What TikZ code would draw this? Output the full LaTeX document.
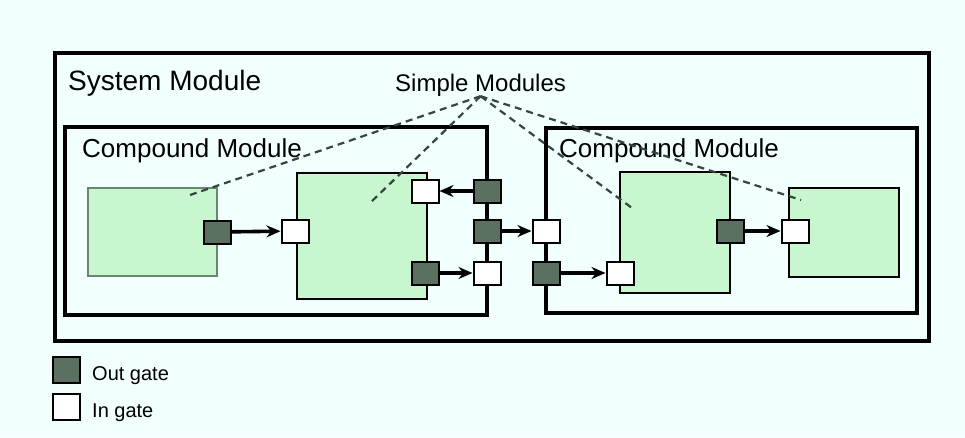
\documentclass[tikz,border=0pt]{standalone}
\usepackage{fontspec}
\setmainfont{Liberation Sans}
\usepackage{xcolor}
\usepackage{tikz}
\usetikzlibrary{arrows.meta}
\definecolor{canvas}{RGB}{242,255,255}
\definecolor{modfill}{RGB}{200,246,206}
\definecolor{gatedark}{RGB}{92,112,98}
\definecolor{dashgreen}{RGB}{50,72,60}
\definecolor{faintedge}{RGB}{105,135,110}

\begin{document}
\begin{tikzpicture}[x=1pt, y=-1pt, frame/.style={draw=black, line width=4pt, inner sep=0pt}, compound/.style={draw=black, line width=3.5pt, inner sep=0pt}, simple/.style={draw=black, fill=modfill, line width=2.2pt, inner sep=0pt}, outgate/.style={draw=black, fill=gatedark, line width=2pt, minimum width=27pt, minimum height=23pt, inner sep=0pt}, ingate/.style={outgate, fill=white}, arrow/.style={-{Stealth[length=14pt,width=12pt]}, draw=black, line width=3.6pt}, pointer/.style={draw=dashgreen, line width=2.2pt, dash pattern=on 7pt off 5pt}, title/.style={anchor=base west, inner sep=0pt}]
\fill[canvas] (0,0) rectangle (965,437);
\useasboundingbox (0,0) rectangle (965,437);
\node[frame, minimum width=874pt, minimum height=288pt] (sys) at (492,197) {};
\node[title, font=\fontsize{28}{32}\selectfont] (systext) at (68,90) {System Module};
\node[title, font=\fontsize{24}{28}\selectfont] (smp) at (395,91) {Simple Modules};
\node[compound, minimum width=422pt, minimum height=188pt] (cl) at (276,221) {};
\node[title, font=\fontsize{26}{30}\selectfont] (cltext) at (82,157) {Compound Module};
\node[compound, minimum width=371pt, minimum height=185pt] (cr) at (731.5,220.5) {};
\node[title, font=\fontsize{26}{30}\selectfont] (crtext) at (559,157) {Compound Module};
% simple modules
\node[simple, draw=faintedge, line width=1.3pt, minimum width=129pt, minimum height=88pt] (sa) at (152.5,232) {};
\node[simple, minimum width=130pt, minimum height=126pt] (sb) at (362,236) {};
\node[simple, minimum width=110pt, minimum height=121pt] (sc) at (675,232.5) {};
\node[simple, line width=1.8pt, minimum width=110pt, minimum height=89pt] (sd) at (844,232.5) {};
% gates
\node[outgate] (aout) at (217,232) {};
\node[ingate] (bin1) at (295,231) {};
\node[ingate] (bin2) at (425,191) {};
\node[outgate] (bout) at (425,273) {};
\node[outgate] (lout1) at (487,191) {};
\node[outgate] (lout2) at (487,231) {};
\node[ingate] (lin) at (487,273) {};
\node[ingate] (rin) at (546,231) {};
\node[outgate] (rout) at (546,273) {};
\node[ingate] (cin) at (620,273) {};
\node[outgate] (cout) at (730,231) {};
\node[ingate] (din) at (795,231) {};
\draw[arrow] (aout) -- (bin1);
\draw[arrow] (lout1) -- (bin2);
\draw[arrow] (bout) -- (lin);
\draw[arrow] (lout2) -- (rin);
\draw[arrow] (rout) -- (cin);
\draw[arrow] (cout) -- (din);
% pointers to the simple modules
\coordinate (pa) at (190,195);
\coordinate (pb) at (370,203);
\coordinate (pc) at (632,208);
\coordinate (pd) at (801,200);
\draw[pointer] (smp.south) -- (pa);
\draw[pointer] (smp.south) -- (pb);
\draw[pointer] (smp.south) -- (pc);
\draw[pointer] (smp.south) -- (pd);
% legend
\node[outgate, minimum width=27pt, minimum height=26pt] (legout) at (66,370) {};
\node[title, font=\fontsize{20}{24}\selectfont] (legouttext) at (92,380) {Out gate};
\node[ingate, minimum width=27pt, minimum height=26pt] (legin) at (66,407) {};
\node[title, font=\fontsize{20}{24}\selectfont] (legintext) at (92,417) {In gate};
\end{tikzpicture}
\end{document}
